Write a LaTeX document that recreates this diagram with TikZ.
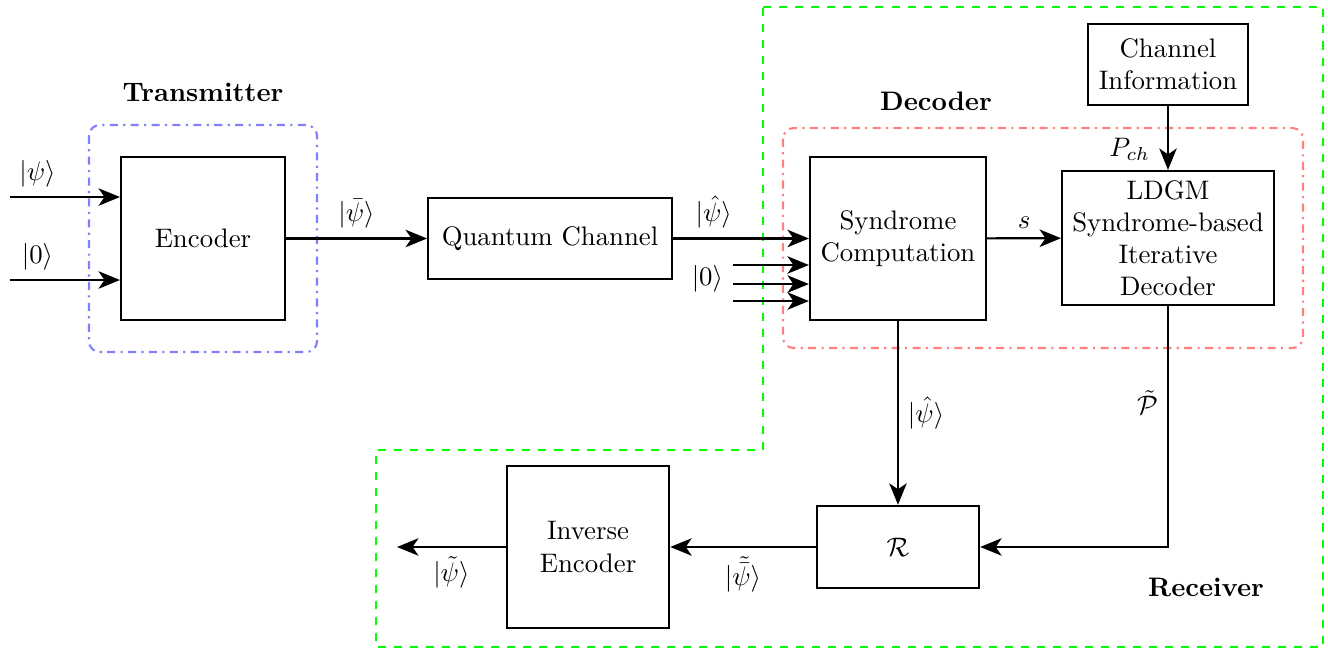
\documentclass[tikz,border=0pt]{standalone}
\usepackage{amsmath}
\usetikzlibrary{arrows.meta}

\begin{document}
\begin{tikzpicture}[
        block/.style={draw, thick, align=center, inner sep=2pt},
        flow/.style={draw, thick, -{Stealth[length=8pt, width=6.5pt, inset=2.2pt]}},
        region/.style={thick, rounded corners=4pt, dash dot},
        title/.style={font=\bfseries}
    ]
 \useasboundingbox (0,0) rectangle (17.43,-8.571);

 % receiver area
 \draw[thick, dashed, green] (10.014,-0.092) -- (17.364,-0.092) -- (17.364,-8.492)
     -- (4.935,-8.492) -- (4.935,-5.906) -- (10.014,-5.906) -- cycle;
 \node[title] (rxlabel) at (15.829,-7.704) {Receiver};

 % transmitter and decoder groups
 \draw[region, blue!50] (1.168,-1.641) rectangle (4.161,-4.620);
 \node[title] (txlabel) at (2.664,-1.208) {Transmitter};
 \draw[region, red!50] (10.277,-1.680) rectangle (17.102,-4.568);
 \node[title] (declabel) at (12.285,-1.326) {Decoder};

 % blocks
 \node[block, minimum width=2.15cm, minimum height=2.14cm] (encoder) at (2.664,-3.130) {Encoder};
 \node[block, minimum width=3.2cm, minimum height=1.06cm] (channel) at (7.219,-3.130) {Quantum Channel};
 \node[block, minimum width=2.31cm, minimum height=2.14cm] (syndrome) at (11.786,-3.130) {Syndrome\\Computation};
 \node[block, minimum width=2.78cm, minimum height=1.76cm] (ldgm) at (15.330,-3.124) {LDGM\\Syndrome-based\\Iterative\\Decoder};
 \node[block, minimum width=2.11cm, minimum height=1.06cm] (chinfo) at (15.330,-0.847) {Channel\\Information};
 \node[block, minimum width=2.13cm, minimum height=1.08cm] (recov) at (11.786,-7.179) {$\mathcal{R}$};
 \node[block, minimum width=2.13cm, minimum height=2.13cm] (invenc) at (7.718,-7.179) {Inverse\\Encoder};

 % free ends
 \coordinate (inpsi) at (0.131,-2.586);
 \coordinate (inzero) at (0.131,-3.675);
 \coordinate (anc1) at (9.621,-3.478);
 \coordinate (anc2) at (9.621,-3.728);
 \coordinate (anc3) at (9.621,-3.951);
 \coordinate (output) at (5.211,-7.179);

 % connections
 \draw[flow] (inpsi) -- node[pos=0.25, above] {$|\psi\rangle$} (inpsi -| encoder.west);
 \draw[flow] (inzero) -- node[pos=0.25, above] {$|0\rangle$} (inzero -| encoder.west);
 \draw[flow] (encoder) -- node[above] {$|\bar{\psi}\rangle$} (channel);
 \draw[flow] (channel) -- node[pos=0.3, above] {$|\hat{\psi}\rangle$} (syndrome);
 \draw[flow] (anc1) -- (anc1 -| syndrome.west);
 \draw[flow] (anc2) node[left, yshift=2pt] {$|0\rangle$} -- (anc2 -| syndrome.west);
 \draw[flow] (anc3) -- (anc3 -| syndrome.west);
 \draw[flow] (syndrome) -- node[above] {$s$} (ldgm);
 \draw[flow] (chinfo) -- node[pos=0.68, left, xshift=-3pt] {$P_{ch}$} (ldgm);
 \draw[flow] (ldgm.south) |- node[pos=0.2, left] {$\tilde{\mathcal{P}}$} (recov.east);
 \draw[flow] (syndrome) -- node[right] {$|\hat{\psi}\rangle$} (recov);
 \draw[flow] (recov) -- node[below] {$|\tilde{\bar{\psi}}\rangle$} (invenc);
 \draw[flow] (invenc) -- node[below] {$|\tilde{\psi}\rangle$} (output);
\end{tikzpicture}
\end{document}
